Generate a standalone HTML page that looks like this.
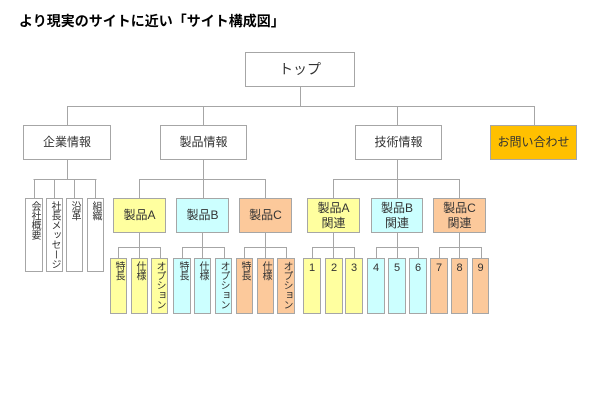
<!DOCTYPE html>
<html><head><meta charset="utf-8"><style>
html,body{margin:0;padding:0;background:#fff;width:600px;height:415px;overflow:hidden;position:relative;font-family:"Liberation Sans","Noto Sans CJK JP",sans-serif;color:#333}
.t{position:absolute;left:19px;top:11px;font-size:14px;font-weight:bold;color:#000;white-space:nowrap}
.b{position:absolute;box-sizing:border-box;border:1px solid #a6a6a6;background:#fff;display:flex;align-items:center;justify-content:center;text-align:center;font-size:12px;line-height:15px}
.v{position:absolute;box-sizing:border-box;border:1px solid #a6a6a6;background:#fff;font-size:10px;writing-mode:vertical-rl;text-orientation:upright;white-space:nowrap;padding-top:2px;line-height:15px;overflow:hidden;letter-spacing:-0.3px}
.n{position:absolute;box-sizing:border-box;border:1px solid #a6a6a6;font-size:11px;text-align:center;padding-top:3px}
.y{background:#ffff9f}.c{background:#ccffff}.o{background:#fcc99b}
svg{position:absolute;left:0;top:0}
</style></head><body>
<div class="t">より現実のサイトに近い「サイト構成図」</div>
<svg width="600" height="415"><g stroke="#a6a6a6" stroke-width="1" fill="none">
<path d="M300.5 87V106.5M67.5 106.5H534.5M67.5 106V125M203.5 106V125M397.5 106V125M534.5 106V125"/>
<path d="M67.5 160V179.5M33.5 179.5H96.5M34.5 179V198M54.5 179V198M74.5 179V198M95.5 179V198"/>
<path d="M203.5 160V179.5M139.5 179.5H265.5M139.5 179V198M203.5 179V198M265.5 179V198"/>
<path d="M397.5 160V179.5M333.5 179.5H459.5M333.5 179V198M397.5 179V198M459.5 179V198"/>
<path d="M139.5 233V247.5M118.5 247.5H160.5M118.5 247V258M139.5 247V258M160.5 247V258"/>
<path d="M202.5 233V247.5M182.5 247.5H224.5M182.5 247V258M202.5 247V258M224.5 247V258"/>
<path d="M265.5 233V247.5M244.5 247.5H286.5M244.5 247V258M265.5 247V258M286.5 247V258"/>
<path d="M333.5 233V247.5M312.5 247.5H354.5M312.5 247V258M333.5 247V258M354.5 247V258"/>
<path d="M397.5 233V247.5M376.5 247.5H418.5M376.5 247V258M397.5 247V258M418.5 247V258"/>
<path d="M459.5 233V247.5M439.5 247.5H481.5M439.5 247V258M459.5 247V258M481.5 247V258"/>
</g></svg>
<div class="b" style="left:245px;top:52px;width:110px;height:35px;font-size:14px">トップ</div>
<div class="b" style="left:23px;top:125px;width:88px;height:35px">企業情報</div>
<div class="b" style="left:160px;top:125px;width:87px;height:35px">製品情報</div>
<div class="b" style="left:355px;top:125px;width:87px;height:35px">技術情報</div>
<div class="b" style="left:490px;top:125px;width:87px;height:35px;background:#ffc000">お問い合わせ</div>

<div class="v" style="left:25px;top:198px;width:18px;height:74px">会社概要</div>
<div class="v" style="left:46px;top:198px;width:17px;height:74px">社長メッセージ</div>
<div class="v" style="left:66px;top:198px;width:17px;height:74px">沿革</div>
<div class="v" style="left:87px;top:198px;width:17px;height:74px">組織</div>

<div class="b y" style="left:113px;top:198px;width:53px;height:35px">製品A</div>
<div class="b c" style="left:176px;top:198px;width:53px;height:35px">製品B</div>
<div class="b o" style="left:239px;top:198px;width:53px;height:35px">製品C</div>
<div class="b y" style="left:307px;top:198px;width:53px;height:35px">製品A<br>関連</div>
<div class="b c" style="left:371px;top:198px;width:52px;height:35px">製品B<br>関連</div>
<div class="b o" style="left:433px;top:198px;width:53px;height:35px">製品C<br>関連</div>

<div class="v y" style="left:110px;top:258px;width:17px;height:56px">特長</div>
<div class="v y" style="left:131px;top:258px;width:17px;height:56px">仕様</div>
<div class="v y" style="left:151px;top:258px;width:17px;height:56px">オプション</div>
<div class="v c" style="left:173px;top:258px;width:18px;height:56px">特長</div>
<div class="v c" style="left:194px;top:258px;width:17px;height:56px">仕様</div>
<div class="v c" style="left:215px;top:258px;width:17px;height:56px">オプション</div>
<div class="v o" style="left:236px;top:258px;width:17px;height:56px">特長</div>
<div class="v o" style="left:257px;top:258px;width:17px;height:56px">仕様</div>
<div class="v o" style="left:277px;top:258px;width:18px;height:56px">オプション</div>

<div class="n y" style="left:303px;top:258px;width:18px;height:56px">1</div>
<div class="n y" style="left:325px;top:258px;width:18px;height:56px">2</div>
<div class="n y" style="left:345px;top:258px;width:18px;height:56px">3</div>
<div class="n c" style="left:367px;top:258px;width:18px;height:56px">4</div>
<div class="n c" style="left:388px;top:258px;width:18px;height:56px">5</div>
<div class="n c" style="left:409px;top:258px;width:18px;height:56px">6</div>
<div class="n o" style="left:430px;top:258px;width:18px;height:56px">7</div>
<div class="n o" style="left:451px;top:258px;width:17px;height:56px">8</div>
<div class="n o" style="left:472px;top:258px;width:17px;height:56px">9</div>
</body></html>
